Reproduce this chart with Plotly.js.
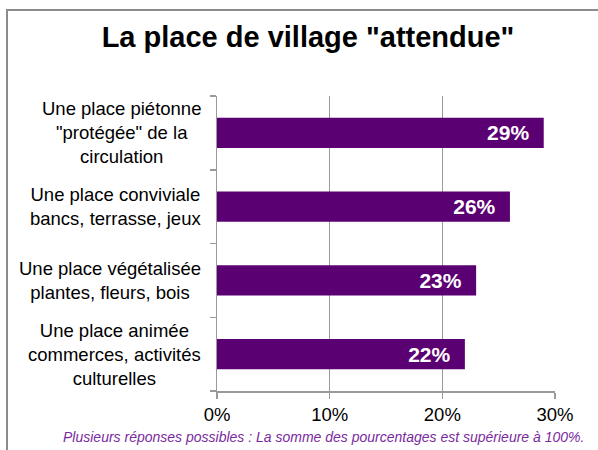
<!DOCTYPE html>
<html><head><meta charset="utf-8">
<script src="https://cdn.plot.ly/plotly-3.0.1.min.js"></script>
<style>html,body{margin:0;padding:0;background:#fff}#c{width:598px;height:450px}</style>
</head><body><div id="c"></div>
<script>
var categories = ["Une place animée<br>commerces, activités<br>culturelles",
                  "Une place végétalisée<br>plantes, fleurs, bois",
                  "Une place conviviale<br>bancs, terrasse, jeux",
                  "Une place piétonne<br>\"protégée\" de la<br>circulation"];
var values = [22, 23, 26, 29];
var tickVals = [0, 10, 20, 30];
var tickText = ["0%", "10%", "20%", "30%"];

var FONT = 'Liberation Sans, Arial, sans-serif';
var ml = 217, mr = 43, mt = 96, mb = 59, W = 598, H = 450;
var pw = W - ml - mr, ph = H - mt - mb;

var trace = {
  type: 'bar', orientation: 'h',
  y: categories, x: values,
  marker: {color: '#5b0072'},
  text: values.map(function(v){return v + '%\u00a0\u00a0';}),
  textposition: 'inside', insidetextanchor: 'end',
  textfont: {family: FONT, size: 21, color: '#ffffff', weight: 'bold'},
  constraintext: 'none',
  hoverinfo: 'none'
};

var annotations = categories.map(function(c){
  return {xref: 'paper', yref: 'y', x: 0, y: c, xanchor: 'right', yanchor: 'middle',
          xshift: -14, text: c, showarrow: false, align: 'center',
          font: {family: FONT, size: 18.5, color: '#000'}};
});
annotations.push({xref: 'paper', yref: 'paper', x: (323 - ml) / pw, y: (H - mb - 437) / ph,
  xanchor: 'center', yanchor: 'middle', showarrow: false,
  text: '<i>Plusieurs réponses possibles : La somme des pourcentages est supérieure à 100%.</i>',
  font: {family: FONT, size: 14, color: '#7a2a9e'}});

var layout = {
  width: W, height: H,
  margin: {l: ml, r: mr, t: mt, b: mb, pad: 0},
  paper_bgcolor: '#fff', plot_bgcolor: '#fff',
  showlegend: false,
  bargap: 0.59,
  title: {text: '<b>La place de village "attendue"</b>', xref: 'container', yref: 'container',
          x: 308 / W, y: 1 - 37 / H, xanchor: 'center', yanchor: 'middle',
          font: {family: FONT, size: 29, color: '#000'}},
  xaxis: {range: [0, 30], tickvals: tickVals, ticktext: tickText,
          showgrid: true, gridcolor: '#9a9a9a', gridwidth: 1.5,
          showline: true, linecolor: '#9a9a9a', linewidth: 1.5,
          ticks: 'outside', ticklen: 6, tickcolor: '#9a9a9a', tickwidth: 1.5,
          zeroline: false, fixedrange: true,
          tickfont: {family: FONT, size: 18.5, color: '#000'}},
  yaxis: {type: 'category', showticklabels: false, showgrid: false,
          showline: true, linecolor: '#9a9a9a', linewidth: 1.5,
          ticks: 'outside', tickson: 'boundaries', ticklen: 6, tickcolor: '#9a9a9a', tickwidth: 1.5,
          zeroline: false, fixedrange: true},
  annotations: annotations,
  shapes: [{type: 'rect', xref: 'paper', yref: 'paper',
            x0: (7 - ml) / pw, x1: (W + 20 - ml) / pw,
            y0: (H - mb - (H + 20)) / ph, y1: (H - mb - 10) / ph,
            line: {color: '#8c8c8c', width: 2}, fillcolor: 'rgba(0,0,0,0)', layer: 'below'}]
};

Plotly.newPlot('c', [trace], layout, {displayModeBar: false, staticPlot: true});
</script></body></html>
